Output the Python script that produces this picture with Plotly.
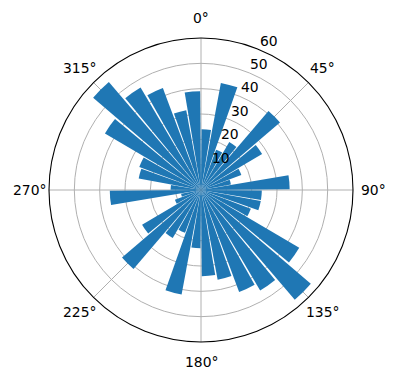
import math
import plotly.graph_objects as go

directions = [5, 15, 25, 35, 45, 55, 65, 75, 85, 95, 105, 115, 125, 135, 145, 155, 165, 175,
              185, 195, 205, 215, 225, 235, 245, 255, 265, 275, 285, 295, 305, 315, 325, 335, 345, 355]
counts = [24, 43, 17, 22, 41, 28, 17, 12, 35, 24, 24, 21, 45, 57, 46, 43, 36, 34,
          23, 42, 18, 22, 41, 27, 11, 8, 36, 12, 25, 26, 44, 56, 47, 43, 32, 39]
bar_width = 9
angle_ticks = [0, 45, 90, 135, 180, 225, 270, 315]
radial_ticks = [10, 20, 30, 40, 50, 60]
r_max = 60
rlabel_angle = 22.5

fig = go.Figure(go.Barpolar(
    r=counts, theta=directions, width=[bar_width] * len(directions),
    marker=dict(color="#1f77b4", line=dict(width=0)),
))

W, H = 396, 380
cx, cy, R = 201, 190, 152
label_dist = 172  # distance of angular label centres from the pole (px)
font = dict(family="DejaVu Sans", size=13.9, color="black")

annotations = []
for a in angle_ticks:
    t = math.radians(a)
    annotations.append(dict(
        text=f"{a}°", showarrow=False, xref="paper", yref="paper",
        x=(cx + label_dist * math.sin(t)) / W, y=(H - cy + label_dist * math.cos(t)) / H,
        xanchor="center", yanchor="middle", font=font,
    ))
t = math.radians(rlabel_angle)
for v in radial_ticks:
    rr = v / r_max * R
    annotations.append(dict(
        text=str(v), showarrow=False, xref="paper", yref="paper", borderpad=0,
        x=(cx + rr * math.sin(t)) / W, y=(H - cy + rr * math.cos(t)) / H,
        xanchor="left", yanchor="bottom", font=font,
    ))

fig.update_layout(
    width=W, height=H, margin=dict(l=0, r=0, t=0, b=0),
    paper_bgcolor="white", showlegend=False, font=font,
    annotations=annotations,
    polar=dict(
        domain=dict(x=[(cx - R) / W, (cx + R) / W], y=[(H - cy - R) / H, (H - cy + R) / H]),
        bgcolor="white",
        bargap=0,
        angularaxis=dict(rotation=90, direction="clockwise", tickmode="array",
                         tickvals=angle_ticks, showticklabels=False,
                         showgrid=True, gridcolor="#b0b0b0", gridwidth=1.1,
                         showline=True, linecolor="black", linewidth=1.1, ticks=""),
        radialaxis=dict(range=[0, r_max], tickmode="array", tickvals=radial_ticks,
                        showticklabels=False, showline=False, ticks="",
                        showgrid=True, gridcolor="#b0b0b0", gridwidth=1.1),
    ),
)
fig.write_html("out.html")
